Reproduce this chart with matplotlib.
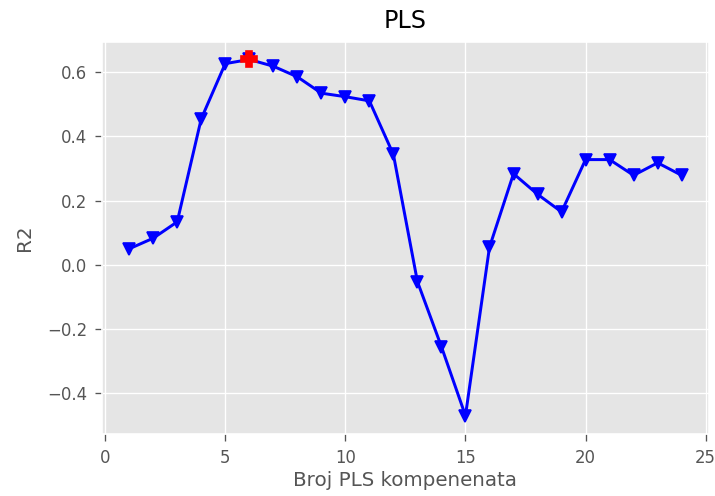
import matplotlib
matplotlib.use("Agg")
import matplotlib.pyplot as plt

# number of PLS components and R2 score for each
n_components = list(range(1, 25))
r2_scores = [0.050, 0.083, 0.134, 0.455, 0.627, 0.640, 0.619, 0.586,
             0.535, 0.524, 0.511, 0.344, -0.052, -0.255, -0.470, 0.055,
             0.284, 0.220, 0.165, 0.328, 0.328, 0.279, 0.318, 0.279]

# best result
best_n = 6
best_r2 = 0.640

plt.style.use("ggplot")
plt.rcParams["xtick.major.size"] = 4.5
plt.rcParams["ytick.major.size"] = 4.5
plt.rcParams["xtick.major.pad"] = 5
plt.rcParams["ytick.major.pad"] = 4

fig = plt.figure(figsize=(715 / 119, 496 / 119), dpi=119)
plt.subplots_adjust(left=0.142, right=0.992, bottom=0.126, top=0.916)

plt.plot(n_components, r2_scores, "-v", color="blue", mfc="blue", lw=1.8, ms=7)
plt.plot(best_n, best_r2, "P", color="red", ms=10)
plt.xlabel("Broj PLS kompenenata", labelpad=2)
plt.ylabel("R2", labelpad=8)
plt.title("PLS", pad=8)

fig.savefig("out.png", dpi=119)
